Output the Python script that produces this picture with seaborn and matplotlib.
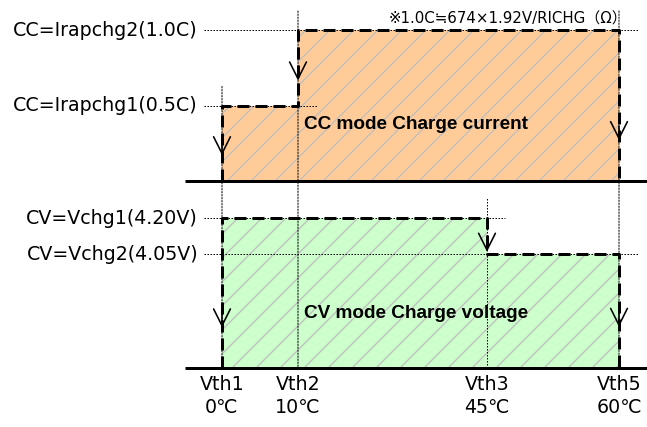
import matplotlib
matplotlib.use("Agg")
import matplotlib.pyplot as plt
import pandas as pd
import seaborn as sns
from matplotlib.patches import ConnectionPatch

# ---------------- data ----------------
thresholds = ["Vth1", "Vth2", "Vth3", "Vth5"]
temps_c = [0, 10, 45, 60]
cc_rates = [0.5, 1.0]                      # C  (Irapchg1, Irapchg2)
cc_labels = ["CC=Irapchg1(0.5C)", "CC=Irapchg2(1.0C)"]
cv_volts = [4.20, 4.05]                    # V  (Vchg1, Vchg2)
cv_labels = ["CV=Vchg1(4.20V)", "CV=Vchg2(4.05V)"]
cc_title = "CC mode Charge current"
cv_title = "CV mode Charge voltage"
note = "※1.0C≒674×1.92V/RICHG（Ω）"

# ---------------- layout / style ----------------
x_pos = [222, 298, 487, 619]          # horizontal placement of thresholds
base_c = 0.0
base_v = 3.575
dash = (0, (4, 2))
dot = (0, (1.5, 1.5))
orange, green, hatch_gray = "#FFCC99", "#CCFFCC", "#BEBEBE"

sns.set_theme(style="white")
plt.rcParams["font.family"] = ["DejaVu Sans", "Noto Sans CJK JP"]
plt.rcParams["hatch.linewidth"] = 1.3
plt.rcParams["text.color"] = "black"

fig = plt.figure(figsize=(647 / 72, 427 / 72), dpi=72)
axT = fig.add_axes([0, 1 - 190 / 427, 1, 190 / 427])
axB = fig.add_axes([0, 0, 1, 237 / 427])
axT.set_xlim(0, 647); axT.set_ylim(-0.0596, 1.1987)
axB.set_xlim(0, 647); axB.set_ylim(3.3292, 4.3167)

x1, x2, x3, x5 = x_pos

# step profiles built from the data
cc_df = pd.DataFrame({"x": [x1, x1, x2, x2, x5, x5],
                      "y": [base_c, cc_rates[0], cc_rates[0], cc_rates[1], cc_rates[1], base_c]})
cv_df = pd.DataFrame({"x": [x1, x1, x3, x3, x5, x5],
                      "y": [base_v, cv_volts[0], cv_volts[0], cv_volts[1], cv_volts[1], base_v]})

# fills
axT.fill_between([x1, x2, x5], [cc_rates[0], cc_rates[1], cc_rates[1]], base_c, step="post",
                 facecolor=orange, edgecolor=hatch_gray, hatch="/", linewidth=0, zorder=1)
axB.fill_between([x1, x3, x5], [cv_volts[0], cv_volts[1], cv_volts[1]], base_v, step="post",
                 facecolor=green, edgecolor=hatch_gray, hatch="/", linewidth=0, zorder=1)

# horizontal guide lines
gstart = 204
glw = 1.0
axT.hlines(cc_rates[0], gstart, x2 + 19, colors="black", linestyles=dot, lw=glw, zorder=2)
axT.hlines(cc_rates[1], gstart, x5 + 19, colors="black", linestyles=dot, lw=glw, zorder=2)
axB.hlines(cv_volts[0], gstart, x3 + 18, colors="black", linestyles=dot, lw=glw, zorder=2)
axB.hlines(cv_volts[1], gstart, x5 + 19, colors="black", linestyles=dot, lw=glw, zorder=2)

# vertical guide lines
overC, overV = 0.126, 0.083
for xx, ytop in [(x1, cc_rates[0] + overC), (x2, cc_rates[1] + overC), (x5, cc_rates[1] + overC)]:
    con = ConnectionPatch(xyA=(xx, ytop), coordsA=axT.transData,
                          xyB=(xx, base_v), coordsB=axB.transData,
                          color="black", linestyle=dot, lw=glw, zorder=2)
    fig.add_artist(con)
axB.vlines(x3, base_v, cv_volts[0] + overV, colors="black", linestyles=dot, lw=glw, zorder=2)

# dashed step outlines
sns.lineplot(data=cc_df, x="x", y="y", sort=False, estimator=None, ax=axT,
             color="black", lw=3, linestyle=dash, zorder=3)
sns.lineplot(data=cv_df, x="x", y="y", sort=False, estimator=None, ax=axB,
             color="black", lw=3, linestyle=dash, zorder=3)
for a in (axT, axB):
    a.axis("off")

# arrowheads (open V) on the vertical segments
def arrow(ax, x, hi, lo, f):
    tip = hi - f * (hi - lo)
    ax.annotate("", xy=(x, tip), xytext=(0, 14), textcoords="offset points",
                arrowprops=dict(arrowstyle="->,head_length=1.4,head_width=0.7",
                                color="black", lw=1.6, shrinkA=0, shrinkB=0),
                zorder=4)

arrow(axT, x1, cc_rates[0], base_c, 0.66)
arrow(axT, x2, cc_rates[1], cc_rates[0], 0.67)
arrow(axT, x5, cc_rates[1], base_c, 0.73)
arrow(axB, x1, cv_volts[0], base_v, 0.73)
arrow(axB, x3, cv_volts[0], cv_volts[1], 0.94)
arrow(axB, x5, cv_volts[1], base_v, 0.64)

# baselines
axT.hlines(base_c, 185, 647, colors="black", lw=3, zorder=5)
axB.hlines(base_v, 185, 647, colors="black", lw=3, zorder=5)

# left level labels
lab_fs = 19
for lvl, lab in zip(cc_rates, cc_labels):
    axT.text(198, lvl, lab, ha="right", va="center", fontsize=lab_fs)
for lvl, lab in zip(cv_volts, cv_labels):
    axB.text(198, lvl, lab, ha="right", va="center", fontsize=lab_fs)

# region titles
title_font = ["Liberation Sans", "DejaVu Sans"]
axT.text(x2 + 6, 0.371, cc_title, ha="left", va="center", fontsize=19,
         fontweight="bold", family=title_font)
axB.text(x2 + 6, 3.804, cv_title, ha="left", va="center", fontsize=19,
         fontweight="bold", family=title_font)

# note
axT.annotate(note, xy=(x5 + 8, cc_rates[1]), xytext=(0, 11), textcoords="offset points",
             ha="right", va="center", fontsize=15)

# threshold labels
for xx, name, t in zip(x_pos, thresholds, temps_c):
    axB.annotate(name, xy=(xx, base_v), xytext=(0, -16), textcoords="offset points",
                 ha="center", va="center", fontsize=lab_fs)
    axB.annotate(f"{t}℃", xy=(xx, base_v), xytext=(0, -39), textcoords="offset points",
                 ha="center", va="center", fontsize=lab_fs)

fig.savefig("out.png", dpi=72)
